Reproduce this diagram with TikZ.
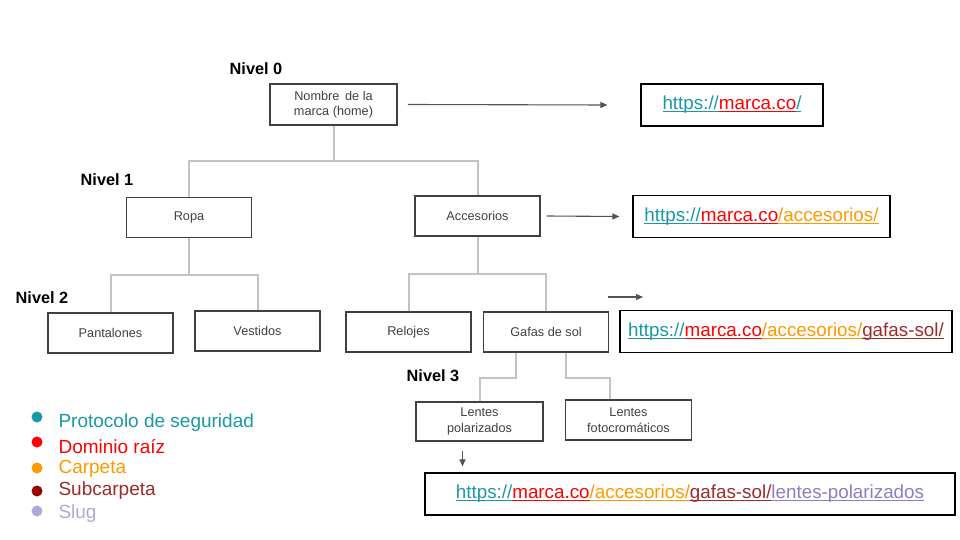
\documentclass[tikz,border=0pt]{standalone}
\usepackage{fontspec}
\setmainfont{Liberation Sans}
\usetikzlibrary{arrows.meta}

\definecolor{protocolo}{HTML}{1A98A6}
\definecolor{dominio}{HTML}{FF0000}
\definecolor{carpeta}{HTML}{FF9900}
\definecolor{subcarpeta}{HTML}{9E2A2A}
\definecolor{subcarpetadot}{HTML}{990000}
\definecolor{slug}{HTML}{8E7CC3}
\definecolor{slugdot}{HTML}{B4A7D6}
\definecolor{boxgray}{HTML}{404040}
\definecolor{linkgray}{HTML}{C3C3C3}

\newsavebox\partbox
\newcommand\urlpart[2]{{\color{#1}\sbox\partbox{#2}\rlap{\rule[-2.2pt]{\wd\partbox}{0.9pt}}\usebox\partbox}}

\begin{document}
\begin{tikzpicture}[x=1pt,y=-1pt,
   page/.style={draw=boxgray,line width=1.8pt,text=boxgray,minimum width=125pt,
     minimum height=40pt,align=center,font=\fontsize{12.7}{15.5}\selectfont},
   urlbox/.style={draw=black,line width=1.2pt,minimum height=42pt,
     font=\fontsize{18.8}{22}\selectfont},
   nivel/.style={font=\fontsize{16.3}{19}\selectfont\bfseries},
   link/.style={linkgray,line width=2pt},
   flecha/.style={draw=boxgray!90,line width=1.1pt,-{Triangle[length=7pt,width=6pt]}},
   dot/.style={circle,inner sep=0pt,minimum size=11pt},
   leyenda/.style={anchor=west,font=\fontsize{19}{22}\selectfont}]
   \useasboundingbox (0,0) rectangle (960,540);
   % niveles
   \node[nivel] (n0) at (256,69) {Nivel 0};
   \node[nivel] (n1) at (107,180) {Nivel 1};
   \node[nivel] (n2) at (42,298) {Nivel 2};
   \node[nivel] (n3) at (433,376) {Nivel 3};
   % arbol
   \node[page,minimum width=127pt,minimum height=41pt] (home) at (333.5,104.5) {Nombre\, de la\\marca (home)};
   \node[page] (ropa) at (189,217.5) {Ropa};
   \node[page] (acc) at (477.5,216) {Accesorios};
   \node[page] (pant) at (110.5,333) {Pantalones};
   \node[page] (vest) at (257.5,331) {Vestidos};
   \node[page] (rel) at (408.5,332) {Relojes};
   \node[page] (gafas) at (546,332) {Gafas de sol};
   \node[page,minimum width=127pt,minimum height=39pt] (lpol) at (479.5,421.5) {Lentes\\polarizados};
   \node[page,minimum width=126pt] (lfoto) at (628.5,420) {Lentes\\fotocromáticos};
   \draw[link] (home.south) -- ++(0,35) -| (ropa.north);
   \draw[link] (home.south) -- ++(0,35) -| (acc.north);
   \draw[link] (ropa.south) -- ++(0,37) -| (pant.north);
   \draw[link] (ropa.south) -- ++(0,37) -| (vest.north);
   \draw[link] (acc.south) -- ++(0,37) -| (rel.north);
   \draw[link] (acc.south) -- ++(0,37) -| (gafas.north);
   \draw[link] ([xshift=-30pt]gafas.south) -- ++(0,25) -| (lpol.north);
   \draw[link] ([xshift=20pt]gafas.south) -- ++(0,25) -| ([xshift=-19pt]lfoto.north);
   % urls
   \node[urlbox,minimum width=182pt] (url0) at (732,105)
     {\urlpart{protocolo}{https://}\urlpart{dominio}{marca.co}\urlpart{protocolo}{/}};
   \node[urlbox,minimum width=257pt] (url1) at (761.5,216.5)
     {\urlpart{protocolo}{https://}\urlpart{dominio}{marca.co}\urlpart{carpeta}{/accesorios/}};
   \node[urlbox,minimum width=332pt] (url2) at (786,331.5)
     {\urlpart{protocolo}{https://}\urlpart{dominio}{marca.co}\urlpart{carpeta}{/accesorios/}\urlpart{subcarpeta}{gafas-sol/}};
   \node[urlbox,minimum width=530pt] (url3) at (690,494)
     {\urlpart{protocolo}{https://}\urlpart{dominio}{marca.co}\urlpart{carpeta}{/accesorios/}\urlpart{subcarpeta}{gafas-sol/}\urlpart{slug}{lentes-polarizados}};
   \coordinate (f2a) at (608,297);
   \coordinate (f2b) at (643,297);
   \draw[flecha] ([xshift=10pt]home.east) -- ([xshift=-33pt]url0.west);
   \draw[flecha] ([xshift=6pt]acc.east) -- ([xshift=-13pt]url1.west);
   \draw[flecha] (f2a) -- (f2b);
   \draw[flecha] ([xshift=-17pt,yshift=-9pt]lpol.south) -- ([xshift=-17pt,yshift=6pt]lpol.south |- url3.north);
   % leyenda
   \node[dot,fill=protocolo] (d1) at (37,417) {};
   \node[dot,fill=dominio] (d2) at (37,442) {};
   \node[dot,fill=carpeta] (d3) at (37,468) {};
   \node[dot,fill=subcarpetadot] (d4) at (37,491) {};
   \node[dot,fill=slugdot] (d5) at (37,511) {};
   \node[leyenda,text=protocolo] (l1) at (55,423) {Protocolo de seguridad};
   \node[leyenda,text=dominio] (l2) at (55,447) {Dominio raíz};
   \node[leyenda,text=carpeta] (l3) at (55,469) {Carpeta};
   \node[leyenda,text=subcarpeta] (l4) at (55,491) {Subcarpeta};
   \node[leyenda,text=slugdot] (l5) at (55,514) {Slug};
\end{tikzpicture}
\end{document}
